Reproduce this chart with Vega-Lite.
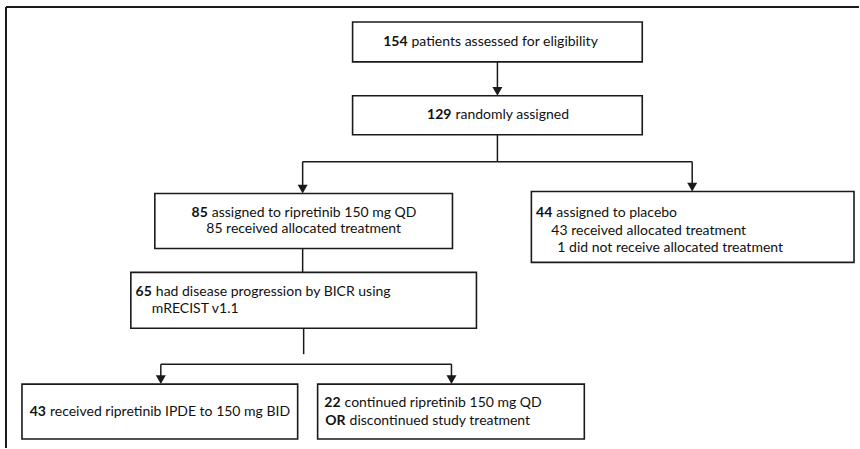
{
  "$schema": "https://vega.github.io/schema/vega-lite/v6.json",
  "width": 860,
  "height": 449,
  "padding": 0,
  "autosize": {"type": "fit", "contains": "padding"},
  "background": "white",
  "config": {"view": {"stroke": null}},
  "datasets": {
    "boxes": [
      {"box": "eligibility", "x": 353, "x2": 643, "y": 22, "y2": 62},
      {"box": "randomised", "x": 353, "x2": 643, "y": 96, "y2": 135},
      {"box": "ripretinib", "x": 155, "x2": 453, "y": 194, "y2": 249},
      {"box": "placebo", "x": 532, "x2": 855, "y": 192, "y2": 263},
      {"box": "progression", "x": 131, "x2": 477, "y": 273, "y2": 329},
      {"box": "ipde", "x": 22, "x2": 298, "y": 385, "y2": 440},
      {"box": "continued", "x": 318, "x2": 585, "y": 385, "y2": 440}
    ],
    "frame": [
      {"x": 6, "x2": 860, "y": 7, "y2": 7},
      {"x": 6, "x2": 6, "y": 7, "y2": 449}
    ],
    "links": [
      {"x": 498, "x2": 498, "y": 62, "y2": 90},
      {"x": 498, "x2": 498, "y": 135, "y2": 162},
      {"x": 303, "x2": 693, "y": 162, "y2": 162},
      {"x": 303, "x2": 303, "y": 162, "y2": 188},
      {"x": 693, "x2": 693, "y": 162, "y2": 186},
      {"x": 303, "x2": 303, "y": 249, "y2": 273},
      {"x": 304, "x2": 304, "y": 329, "y2": 355},
      {"x": 161, "x2": 452, "y": 365, "y2": 365},
      {"x": 161, "x2": 161, "y": 365, "y2": 380},
      {"x": 452, "x2": 452, "y": 365, "y2": 380}
    ],
    "heads": [
      {"x": 498, "y": 91.5},
      {"x": 303, "y": 189.5},
      {"x": 693, "y": 187.5},
      {"x": 161, "y": 380.5},
      {"x": 452, "y": 380.5}
    ],
    "bold": [
      {"t": "154", "x": 408, "y": 42},
      {"t": "129", "x": 452, "y": 115},
      {"t": "85", "x": 208, "y": 213},
      {"t": "44", "x": 553, "y": 213},
      {"t": "65", "x": 152, "y": 293},
      {"t": "43", "x": 46, "y": 413},
      {"t": "22", "x": 341, "y": 404},
      {"t": "OR", "x": 346, "y": 422}
    ],
    "after": [
      {"t": "patients assessed for eligibility", "x": 408, "y": 42},
      {"t": "randomly assigned", "x": 452, "y": 115},
      {"t": "assigned to ripretinib 150 mg QD", "x": 208, "y": 213},
      {"t": "assigned to placebo", "x": 553, "y": 213},
      {"t": "had disease progression by BICR using", "x": 152, "y": 293},
      {"t": "received ripretinib IPDE to 150 mg BID", "x": 46, "y": 413},
      {"t": "continued ripretinib 150 mg QD", "x": 341, "y": 404},
      {"t": "discontinued study treatment", "x": 346, "y": 422}
    ],
    "centred": [
      {"t": "85 received allocated treatment", "x": 304, "y": 230}
    ],
    "leftlines": [
      {"t": "43 received allocated treatment", "x": 552, "y": 232},
      {"t": "1 did not receive allocated treatment", "x": 558, "y": 249},
      {"t": "mRECIST v1.1", "x": 152, "y": 310}
    ]
  },
  "encoding": {
    "x": {"field": "x", "type": "quantitative", "scale": {"domain": [0, 860], "nice": false, "zero": false}, "axis": null},
    "y": {"field": "y", "type": "quantitative", "scale": {"domain": [0, 449], "nice": false, "zero": false, "reverse": true}, "axis": null}
  },
  "layer": [
    {
      "data": {"name": "frame"},
      "mark": {"type": "rule", "stroke": "#1a1a1a", "strokeWidth": 2},
      "encoding": {"x2": {"field": "x2"}, "y2": {"field": "y2"}}
    },
    {
      "data": {"name": "links"},
      "mark": {"type": "rule", "stroke": "#1a1a1a", "strokeWidth": 1.5},
      "encoding": {"x2": {"field": "x2"}, "y2": {"field": "y2"}}
    },
    {
      "data": {"name": "boxes"},
      "mark": {"type": "rect", "fill": "white", "stroke": "#1a1a1a", "strokeWidth": 1.6},
      "encoding": {"x2": {"field": "x2"}, "y2": {"field": "y2"}}
    },
    {
      "data": {"name": "heads"},
      "mark": {"type": "point", "shape": "triangle-down", "size": 100, "filled": true, "fill": "#1a1a1a", "strokeWidth": 0, "opacity": 1}
    },
    {
      "data": {"name": "bold"},
      "mark": {"type": "text", "font": "Lato", "fontSize": 14, "fontWeight": "bold", "align": "right", "baseline": "middle", "fill": "#111"},
      "encoding": {"text": {"field": "t"}}
    },
    {
      "data": {"name": "after"},
      "mark": {"type": "text", "font": "Lato", "fontSize": 14, "align": "left", "dx": 4, "baseline": "middle", "fill": "#111"},
      "encoding": {"text": {"field": "t"}}
    },
    {
      "data": {"name": "centred"},
      "mark": {"type": "text", "font": "Lato", "fontSize": 14, "align": "center", "baseline": "middle", "fill": "#111"},
      "encoding": {"text": {"field": "t"}}
    },
    {
      "data": {"name": "leftlines"},
      "mark": {"type": "text", "font": "Lato", "fontSize": 14, "align": "left", "baseline": "middle", "fill": "#111"},
      "encoding": {"text": {"field": "t"}}
    }
  ]
}
